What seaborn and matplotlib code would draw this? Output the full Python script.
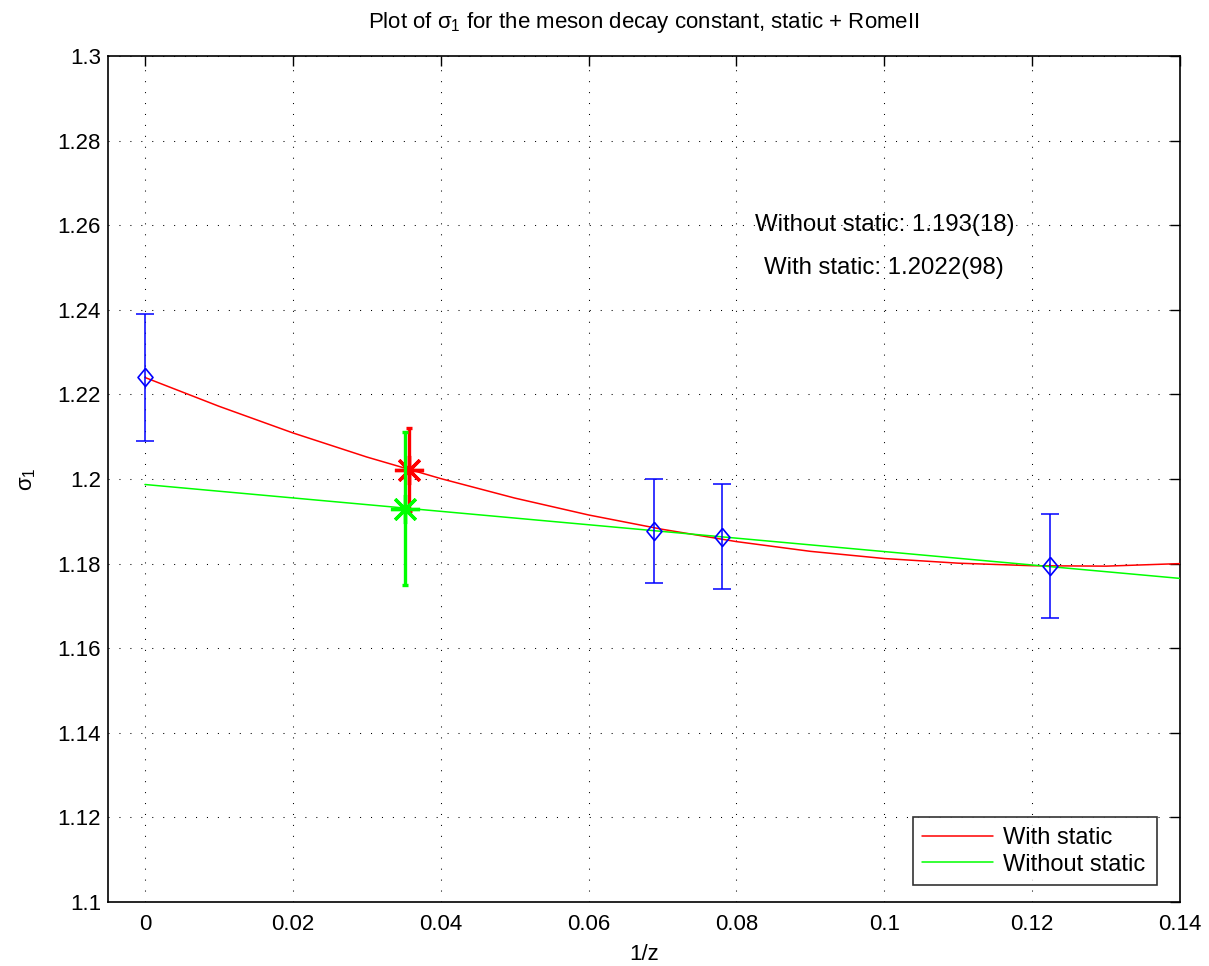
import numpy as np
import pandas as pd
import matplotlib
matplotlib.use("Agg")
import matplotlib.pyplot as plt
import seaborn as sns

# ---- data ----
pts_x = [0.0, 0.0689, 0.0781, 0.1224]
pts_y = [1.224, 1.1877, 1.1864, 1.1795]
pts_err = [0.015, 0.0124, 0.0124, 0.0123]

fit_x = [0.00, 0.01, 0.02, 0.03, 0.04, 0.05, 0.06, 0.07,
         0.08, 0.09, 0.10, 0.11, 0.12, 0.13, 0.14]
with_static_y = [1.2240, 1.2172, 1.2109, 1.2052, 1.2001, 1.1955, 1.1915, 1.1881,
                 1.1852, 1.1829, 1.1812, 1.1801, 1.1795, 1.1794, 1.1800]
without_x = [0.0, 0.14]
without_static_y = [1.1987, 1.1765]

res_with = (0.0357, 1.2022, 0.0098)
res_without = (0.0352, 1.193, 0.018)

xticks = [0, 0.02, 0.04, 0.06, 0.08, 0.1, 0.12, 0.14]
yticks = [1.1, 1.12, 1.14, 1.16, 1.18, 1.2, 1.22, 1.24, 1.26, 1.28, 1.3]

sns.set_style("white")
plt.rcParams['font.family'] = ['Liberation Sans', 'DejaVu Sans']
plt.rcParams['mathtext.fontset'] = 'custom'
plt.rcParams['mathtext.rm'] = 'Liberation Sans'
plt.rcParams['mathtext.it'] = 'Liberation Sans'
plt.rcParams['mathtext.bf'] = 'Liberation Sans'
plt.rcParams['text.color'] = 'black'
plt.rcParams['axes.labelcolor'] = 'black'
plt.rcParams['xtick.color'] = 'black'
plt.rcParams['ytick.color'] = 'black'

W, H = 1209, 966
fig = plt.figure(figsize=(W / 100, H / 100), dpi=100)
ax_l, ax_r, ax_t, ax_b = 108, 1180, 56, 902
ax = fig.add_axes([ax_l/W, 1-ax_b/H, (ax_r-ax_l)/W, (ax_b-ax_t)/H])

df_with = pd.DataFrame({"x": fit_x, "y": with_static_y})
df_without = pd.DataFrame({"x": without_x, "y": without_static_y})

sns.lineplot(data=df_with, x="x", y="y", color=(1, 0, 0), lw=1.1, ax=ax,
             label="With static", zorder=3)
sns.lineplot(data=df_without, x="x", y="y", color=(0, 1, 0), lw=1.1, ax=ax,
             label="Without static", zorder=3)

diamond = [(0, 1), (0.83, 0), (0, -1), (-0.83, 0), (0, 1)]
ax.errorbar(pts_x, pts_y, yerr=pts_err, fmt='none', ecolor=(0, 0, 1),
            elinewidth=1.1, capsize=6.5, capthick=1.1, zorder=4)
ax.plot(pts_x, pts_y, ls='none', marker=diamond, ms=13, mfc='none',
        mec=(0, 0, 1), mew=1.2, zorder=4)

ax.errorbar([res_with[0]], [res_with[1]], yerr=[res_with[2]], fmt='none',
            ecolor=(1, 0, 0), elinewidth=2.4, capsize=2, capthick=2.4, zorder=5)
ax.plot([res_with[0]], [res_with[1]], marker=(8, 2, 0), color=(1, 0, 0),
        ms=21, mew=2.4, ls='none', zorder=5)
ax.errorbar([res_without[0]], [res_without[1]], yerr=[res_without[2]], fmt='none',
            ecolor=(0, 1, 0), elinewidth=2.4, capsize=2, capthick=2.4, zorder=6)
ax.plot([res_without[0]], [res_without[1]], marker=(8, 2, 0), color=(0, 1, 0),
        ms=21, mew=2.4, ls='none', zorder=6)

ax.text(0.1, 1.26, "Without static: 1.193(18)", ha='center', va='center', fontsize=17.3)
ax.text(0.1, 1.25, "With static: 1.2022(98)", ha='center', va='center', fontsize=17.3)

ax.set_xlim(-0.005, 0.14)
ax.set_ylim(1.1, 1.3)
ax.set_xticks(xticks)
ax.set_xticklabels(["0", "0.02", "0.04", "0.06", "0.08", "0.1", "0.12", "0.14"])
ax.set_yticks(yticks)
ax.set_yticklabels(["1.1", "1.12", "1.14", "1.16", "1.18", "1.2", "1.22", "1.24",
                    "1.26", "1.28", "1.3"])
ax.tick_params(direction='in', top=True, right=True, length=7.5, width=1,
               labelsize=16, colors='black')
ax.tick_params(axis='x', pad=9)
ax.tick_params(axis='y', pad=5)
ax.grid(True, color='black', linestyle=(0, (1, 9.5)), linewidth=0.75)
for s in ax.spines.values():
    s.set_color('black')
    s.set_linewidth(1.2)

ax.set_xlabel("1/z", fontsize=16, labelpad=6)
ax.set_ylabel(r"$\sigma_1$", fontsize=16, labelpad=14)
ax.set_title(r"Plot of $\sigma_1$ for the meson decay constant, static + RomeII",
             fontsize=16, pad=20)

# legend box in axes coordinates (pixel extents)
lx0, lx1, ly0, ly1 = 913, 1157, 817, 885
bb = ((lx0-ax_l)/(ax_r-ax_l), (ax_b-ly1)/(ax_b-ax_t),
      (lx1-lx0)/(ax_r-ax_l), (ly1-ly0)/(ax_b-ax_t))
leg = ax.legend(loc='lower right', bbox_to_anchor=bb, mode='expand', fontsize=17,
                frameon=True, fancybox=False, edgecolor='black', handlelength=3.0,
                borderaxespad=0, borderpad=0.4, labelspacing=0.2, handletextpad=0.4)
leg.get_frame().set_linewidth(1.2)

fig.savefig("out.png", dpi=100)
